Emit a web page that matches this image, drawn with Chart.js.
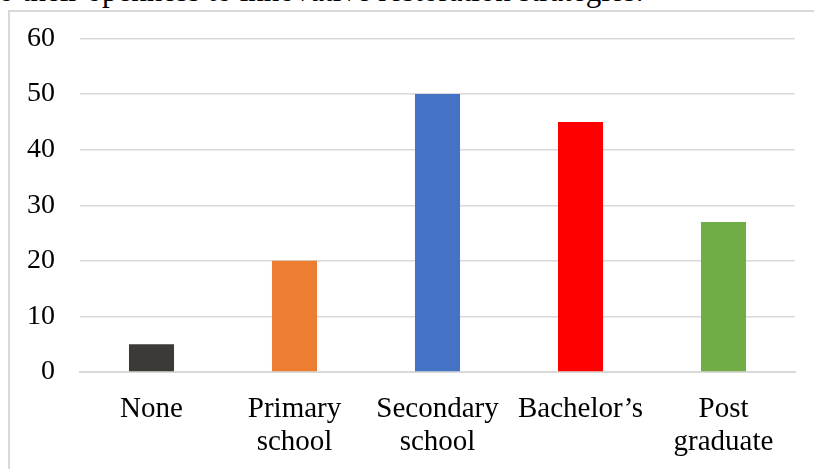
<!DOCTYPE html>
<html>
<head>
<meta charset="utf-8">
<script src="https://cdn.jsdelivr.net/npm/chart.js@4/dist/chart.umd.min.js"></script>
<style>
  html, body { margin: 0; padding: 0; background: #fff; overflow: hidden; }
  #caption {
    position: absolute; left: -10px; top: -25px; white-space: nowrap; line-height: 1;
    font-family: "Liberation Serif", "Times New Roman", serif; font-size: 31px; color: #000;
  }
  #frame {
    position: absolute; left: 8px; top: 10px; width: 830px; height: 480px;
    border: 2px solid #d9d9d9; box-sizing: border-box;
  }
  #wrap { position: absolute; left: 0; top: 0; width: 814px; height: 469px; }
</style>
</head>
<body>
<div id="caption">to their openness to innovative restoration strategies.</div>
<div id="frame"></div>
<div id="wrap"><canvas id="eduChart"></canvas></div>
<script>
const categories = [
  "None",
  ["Primary", "school"],
  ["Secondary", "school"],
  "Bachelor’s",
  ["Post", "graduate"]
];
const counts = [5, 20, 50, 45, 27];
const barColors = ["#3b3a37", "#ed7d31", "#4472c4", "#ff0000", "#70ad47"];
const yTicks = [0, 10, 20, 30, 40, 50, 60];

const serif = "'Liberation Serif', 'Times New Roman', serif";

const ctx = document.getElementById("eduChart").getContext("2d");

new Chart(ctx, {
  type: "bar",
  data: {
    labels: categories,
    datasets: [{
      data: counts,
      backgroundColor: barColors,
      borderWidth: 0,
      categoryPercentage: 1,
      barPercentage: 0.315
    }]
  },
  options: {
    responsive: true,
    maintainAspectRatio: false,
    animation: false,
    layout: { padding: { left: 8, right: 19, top: 38.5, bottom: 0 } },
    plugins: {
      legend: { display: false },
      tooltip: { enabled: false }
    },
    scales: {
      x: {
        grid: { display: false, drawTicks: false },
        border: { color: "#d9d9d9", width: 2 },
        ticks: {
          color: "#000",
          padding: 21,
          maxRotation: 0,
          autoSkip: false,
          font: { family: serif, size: 29, lineHeight: 1.14 }
        },
        afterFit: s => { s.height = 97; }
      },
      y: {
        min: 0,
        max: 60,
        afterBuildTicks: s => { s.ticks = yTicks.map(v => ({ value: v })); },
        grid: { color: "#d9d9d9", lineWidth: 1.5, drawTicks: false },
        border: { display: false },
        ticks: {
          color: "#000",
          padding: 25,
          font: { family: serif, size: 28 }
        },
        // fixed width, and don't let the top label push the plot down
        afterFit: s => { s.width = 72; s.paddingTop = 0; }
      }
    }
  }
});
</script>
</body>
</html>
